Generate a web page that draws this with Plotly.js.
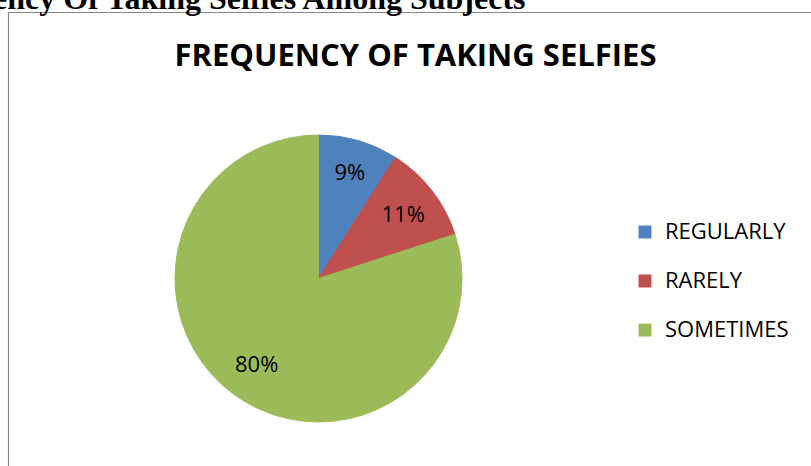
<!DOCTYPE html>
<html>
<head>
<meta charset="utf-8">
<script src="https://cdn.plot.ly/plotly-3.0.1.min.js"></script>
<style>html,body{margin:0;padding:0;background:#fff;}#chart{width:811px;height:466px;}</style>
</head>
<body>
<div id="chart"></div>
<script>
const categories = ["REGULARLY", "RARELY", "SOMETIMES"];
const percentages = [9, 11, 80];
const sliceColors = ["#4F81BD", "#C0504D", "#9BBB59"];
const chartTitle = "FREQUENCY OF TAKING SELFIES";
const pageHeading = "Frequency Of Taking Selfies Among Subjects";

const W = 811, H = 466;
const px = v => v / W;
const py = v => 1 - v / H;

// pie placement (pixels)
const pieLeft = 175, pieRight = 462, pieTop = 135, pieBottom = 422;
const cx = (pieLeft + pieRight) / 2, cy = (pieTop + pieBottom) / 2;
const R = Math.min(pieRight - pieLeft, pieBottom - pieTop) / 2;

const legendLabels = categories.map(c => "<span style='font-size:22px'>" + c + "</span><br> ");

// the largest slice gets its label placed along its bisector (like Excel's best fit)
const total = percentages.reduce((a, b) => a + b, 0);
const maxIdx = percentages.indexOf(Math.max(...percentages));
const textPositions = percentages.map((v, i) => i === maxIdx ? "none" : "inside");

let cum = 0;
const labelAnnotations = [];
percentages.forEach((v, i) => {
  const mid = (cum + v / 2) / total * 2 * Math.PI;
  cum += v;
  if (i !== maxIdx) return;
  const f = 0.73;
  const x = cx + f * R * Math.sin(mid);
  const y = cy - f * R * Math.cos(mid);
  labelAnnotations.push({
    text: v + "%", xref: "paper", yref: "paper",
    x: px(x), y: py(y), xanchor: "center", yanchor: "middle",
    showarrow: false,
    font: {family: "Open Sans", size: 22, color: "#000"}
  });
});

const trace = {
  type: "pie",
  labels: legendLabels,
  values: percentages,
  sort: false,
  direction: "clockwise",
  rotation: 0,
  marker: {colors: sliceColors, line: {color: sliceColors, width: 1}},
  textinfo: "percent",
  texttemplate: "%{value}%",
  textposition: textPositions,
  insidetextorientation: "horizontal",
  textfont: {family: "Open Sans", size: 22, color: "#000"},
  hoverinfo: "none",
  domain: {x: [px(pieLeft), px(pieRight)], y: [py(pieBottom), py(pieTop)]}
};

const layout = {
  width: W, height: H,
  margin: {l: 0, r: 0, t: 0, b: 0},
  paper_bgcolor: "#fff",
  plot_bgcolor: "#fff",
  font: {family: "Open Sans", color: "#000"},
  title: {
    text: "<b>" + chartTitle + "</b>",
    font: {family: "Open Sans", size: 31, color: "#000"},
    x: px(415.5), xanchor: "center", xref: "paper",
    y: py(55), yanchor: "middle", yref: "container"
  },
  showlegend: true,
  legend: {
    x: px(625), xanchor: "left",
    y: py(214), yanchor: "top",
    valign: "top",
    font: {family: "Open Sans", size: 17.7, color: "#000"},
    bgcolor: "rgba(0,0,0,0)"
  },
  shapes: [{
    type: "rect", xref: "paper", yref: "paper",
    x0: px(8.5), x1: 1.05, y0: -0.05, y1: py(12.5),
    line: {color: "#878787", width: 1.2}, fillcolor: "rgba(0,0,0,0)", layer: "below"
  }],
  annotations: [{
    text: "<b>" + pageHeading + "</b>",
    xref: "paper", yref: "paper",
    x: px(527), xanchor: "right",
    y: py(18), yanchor: "bottom",
    showarrow: false,
    font: {family: "Liberation Serif", size: 32, color: "#000"}
  }].concat(labelAnnotations)
};

Plotly.newPlot("chart", [trace], layout, {displayModeBar: false, staticPlot: true});
</script>
</body>
</html>
